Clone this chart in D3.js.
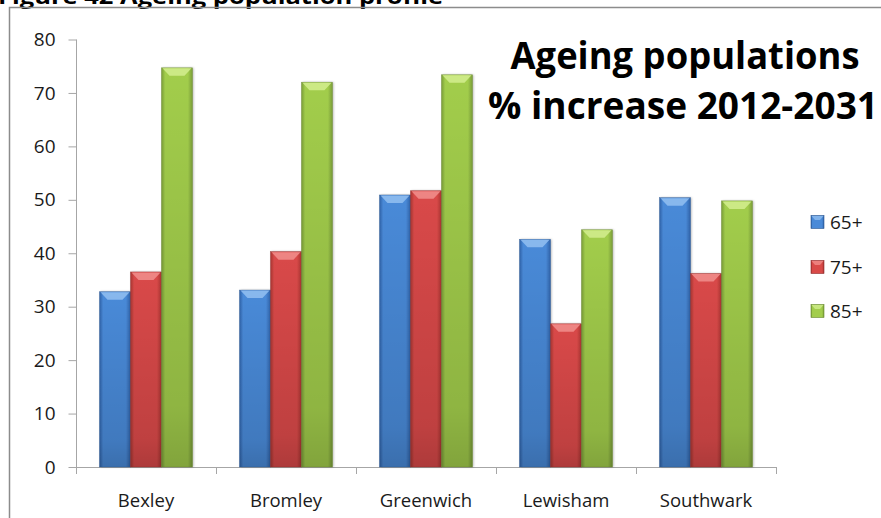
<!DOCTYPE html>
<html><head><meta charset="utf-8">
<script src="https://cdn.jsdelivr.net/npm/d3@7"></script>
<style>
html,body{margin:0;padding:0;background:#fff;}
svg{display:block;}
text{font-family:"Open Sans",sans-serif;}
</style></head>
<body>
<svg id="chart" width="881" height="518"></svg>
<script>
const categories = ["Bexley", "Bromley", "Greenwich", "Lewisham", "Southwark"];
const seriesNames = ["65+", "75+", "85+"];
const values65 = [32.8, 33.1, 50.9, 42.6, 50.4];
const values75 = [36.5, 40.3, 51.7, 26.8, 36.2];
const values85 = [74.7, 72.0, 73.4, 44.4, 49.8];
const yTicks = [0, 10, 20, 30, 40, 50, 60, 70, 80];
const titleLines = ["Ageing populations", "% increase 2012-2031"];
const headerText = "Figure 42 Ageing population profile";

const seriesValues = [values65, values75, values85];
const palette = [
  {mid:"#4a8ad8", edge:"#2f62a8", top:"#8fbdf0", stroke:"#2a5590"},
  {mid:"#d94a48", edge:"#a83432", top:"#f08c8a", stroke:"#8e2b2a"},
  {mid:"#a2cd4c", edge:"#7a9d38", top:"#d0ec8c", stroke:"#66852e"}
];

const svg = d3.select("#chart");
const defs = svg.append("defs");
palette.forEach((p, i) => {
  const g = defs.append("linearGradient").attr("id", "grad" + i)
    .attr("x1", "0").attr("x2", "1").attr("y1", "0").attr("y2", "0");
  g.append("stop").attr("offset", "0").attr("stop-color", p.edge);
  g.append("stop").attr("offset", "0.12").attr("stop-color", p.mid);
  g.append("stop").attr("offset", "0.85").attr("stop-color", p.mid);
  g.append("stop").attr("offset", "1").attr("stop-color", p.edge);
  const v = defs.append("linearGradient").attr("id", "vgrad" + i)
    .attr("x1", "0").attr("x2", "0").attr("y1", "0").attr("y2", "1");
  v.append("stop").attr("offset", "0").attr("stop-color", "#000").attr("stop-opacity", 0);
  v.append("stop").attr("offset", "0.85").attr("stop-color", "#000").attr("stop-opacity", 0.12);
  v.append("stop").attr("offset", "1").attr("stop-color", "#000").attr("stop-opacity", 0.2);
});
const shadow = defs.append("filter").attr("id", "shadow").attr("x", "-20%").attr("y", "-5%").attr("width", "140%").attr("height", "110%");
shadow.append("feDropShadow").attr("dx", 1).attr("dy", 0).attr("stdDeviation", 1.2).attr("flood-color", "#000").attr("flood-opacity", 0.3);

// Header (cut off at top, as in the reference)
svg.append("text").attr("x", -2).attr("y", 4)
  .attr("font-size", 21).attr("font-weight", "bold").attr("fill", "#000")
  .attr("textLength", 445).attr("lengthAdjust", "spacingAndGlyphs")
  .text(headerText);

// Frame
svg.append("path").attr("d", "M9.5,518 L9.5,7.5 L881,7.5")
  .attr("fill", "none").attr("stroke", "#8c8c8c").attr("stroke-width", 1.5);

const x0 = d3.scaleBand().domain(categories).range([76, 776]).paddingInner(0.336).paddingOuter(0.168);
const x1 = d3.scaleBand().domain(seriesNames).range([0, x0.bandwidth()]);
const y = d3.scaleLinear().domain([0, 80]).range([467, 39.5]);

// Y axis
const yAxis = svg.append("g").attr("transform", "translate(76.5,0)")
  .call(d3.axisLeft(y).tickValues(yTicks).tickSize(8).tickPadding(13).tickSizeOuter(0));
yAxis.select(".domain").attr("stroke", "#a6a6a6").attr("d", `M0,${y(80)}V${y(0) + 7}`);
yAxis.selectAll(".tick line").attr("stroke", "#a6a6a6");
yAxis.selectAll(".tick text").attr("font-size", 19).attr("fill", "#1a1a1a");

// X axis
const boundaries = categories.map(c => x0(c) + x0.bandwidth() + x0.step() * x0.paddingInner() / 2);
const xg = svg.append("g");
xg.append("line").attr("x1", 76).attr("x2", boundaries[boundaries.length - 1])
  .attr("y1", y(0) + 0.5).attr("y2", y(0) + 0.5).attr("stroke", "#a6a6a6");
xg.selectAll(".bt").data(boundaries).join("line")
  .attr("x1", d => Math.round(d) + 0.5).attr("x2", d => Math.round(d) + 0.5)
  .attr("y1", y(0)).attr("y2", y(0) + 7).attr("stroke", "#a6a6a6");
xg.selectAll(".cl").data(categories).join("text")
  .attr("x", d => x0(d) + x0.bandwidth() / 2).attr("y", 507)
  .attr("text-anchor", "middle").attr("font-size", 18.5).attr("fill", "#1a1a1a")
  .text(d => d);

// Bars
const data = [];
categories.forEach((c, ci) => seriesNames.forEach((s, si) => data.push({c, s, si, v: seriesValues[si][ci]})));
const bars = svg.append("g").selectAll("g").data(data).join("g");
bars.append("rect")
  .attr("x", d => x0(d.c) + x1(d.s)).attr("y", d => y(d.v))
  .attr("width", x1.bandwidth()).attr("height", d => y(0) - y(d.v))
  .attr("fill", d => `url(#grad${d.si})`).attr("filter", "url(#shadow)");
bars.append("rect")
  .attr("x", d => x0(d.c) + x1(d.s)).attr("y", d => y(d.v))
  .attr("width", x1.bandwidth()).attr("height", d => y(0) - y(d.v))
  .attr("fill", d => `url(#vgrad${d.si})`)
  .attr("stroke", d => palette[d.si].stroke).attr("stroke-width", 0.6).attr("stroke-opacity", 0.7);
bars.append("path")
  .attr("d", d => {
    const xl = x0(d.c) + x1(d.s), w = x1.bandwidth(), t = y(d.v);
    return `M${xl + 1},${t + 0.5} L${xl + w - 1},${t + 0.5} L${xl + w - 8},${t + 8} L${xl + 8},${t + 8} Z`;
  })
  .attr("fill", d => palette[d.si].top).attr("opacity", 0.9);

// Title
svg.append("text").attr("x", 685).attr("y", 69).attr("text-anchor", "middle")
  .attr("font-size", 37).attr("font-weight", "bold").attr("fill", "#000")
  .attr("textLength", 349).attr("lengthAdjust", "spacingAndGlyphs")
  .text(titleLines[0]);
svg.append("text").attr("x", 683).attr("y", 119).attr("text-anchor", "middle")
  .attr("font-size", 37).attr("font-weight", "bold").attr("fill", "#000")
  .attr("textLength", 390).attr("lengthAdjust", "spacingAndGlyphs")
  .text(titleLines[1]);

// Legend
const lg = svg.append("g");
const legendY = [222, 267, 311];
seriesNames.forEach((s, i) => {
  const g = lg.append("g").attr("transform", `translate(811,${legendY[i]})`);
  g.append("rect").attr("x", 0).attr("y", -6.5).attr("width", 13).attr("height", 13)
    .attr("fill", `url(#grad${i})`).attr("stroke", palette[i].stroke).attr("stroke-width", 0.6);
  g.append("path").attr("d", "M0.5,-6 L12.5,-6 L9,-2 L4,-2 Z").attr("fill", palette[i].top).attr("opacity", 0.8);
  g.append("text").attr("x", 19).attr("y", 0).attr("dy", "0.36em")
    .attr("font-size", 19).attr("fill", "#1a1a1a").text(s);
});
</script>
</body></html>
